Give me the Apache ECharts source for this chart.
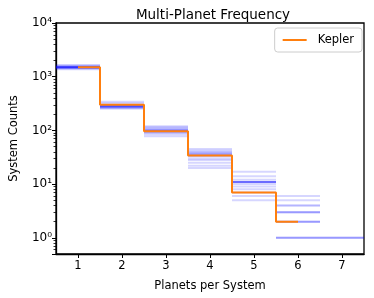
<!DOCTYPE html>
<html>
<head>
<meta charset="utf-8">
<script src="https://cdn.jsdelivr.net/npm/echarts@6/dist/echarts.min.js"></script>
<style>html,body{margin:0;padding:0;background:#fff}#c{width:374px;height:298px}</style>
</head>
<body>
<div id="c"></div>
<script>
// Planet multiplicity categories
var planets = [1, 2, 3, 4, 5, 6, 7];
// Kepler observed counts (planets 1..6)
var keplerPlanets = [1, 2, 3, 4, 5, 6];
var keplerCounts = [1500, 300, 97, 34, 7, 2];
// Simulated system counts per multiplicity (one array per multiplicity, one entry per simulation)
var sim1 = [1500, 1520, 1480, 1550, 1450, 1600, 1380, 1500, 1530, 1420, 1650, 1480, 1510, 1490];
var sim2 = [280, 270, 290, 260, 300, 275, 320, 285, 340, 255, 295, 280, 270, 285];
var sim3 = [100, 95, 110, 90, 105, 85, 120, 98, 78, 115, 92, 100, 96, 102];
var sim4 = [33, 36, 30, 40, 28, 45, 25, 35, 22, 38, 20, 42, 34, 37];
var sim5 = [11, 11, 9, 12, 11, 8, 14, 11, 17, 6, 5, 10, 11, 7];
var sim6 = [4, 3, 2, 3, 4, 2, 5, 1, 6, 2, 3, 1, 1, null];
var sim7 = [null, 1, null, null, null, null, null, null, 1, null, null, 1, null, null];
var yTickLabels = {'1': '10\u2070', '10': '10\u00b9', '100': '10\u00b2', '1000': '10\u00b3', '10000': '10\u2074'};

var simLevels = [sim1, sim2, sim3, sim4, sim5, sim6, sim7];
var nSims = sim1.length;
var series = [];
for (var s = 0; s < nSims; s++) {
  var data = [];
  for (var i = 0; i < planets.length; i++) {
    var v = simLevels[i][s];
    if (v == null || v <= 0) continue;
    data.push([planets[i] - 0.5, v]);
    data.push([planets[i] + 0.5, v]);
    data.push(null);
  }
  series.push({
    type: 'line', data: data, showSymbol: false, symbol: 'none', silent: true,
    connectNulls: false, z: 2,
    lineStyle: {color: 'rgba(0,0,255,0.16)', width: 2},
    animation: false
  });
}
series.push({
  name: 'Kepler', type: 'line', step: 'middle', showSymbol: false, symbol: 'none', z: 5,
  data: keplerPlanets.map(function (p, i) { return [p, keplerCounts[i]]; }),
  lineStyle: {color: '#ff7f0e', width: 2}, itemStyle: {color: '#ff7f0e'},
  animation: false
});

var chart = echarts.init(document.getElementById('c'), null, {renderer: 'canvas'});
var font = 'DejaVu Sans';
chart.setOption({
  animation: false,
  title: {
    text: 'Multi-Planet Frequency', left: 208, top: 3, textAlign: 'center',
    textStyle: {fontFamily: font, fontSize: 13.5, fontWeight: 'normal', color: '#000'}
  },
  legend: {
    data: ['Kepler'], right: 12, top: 28,
    orient: 'vertical', itemWidth: 24, itemHeight: 2, itemGap: 4,
    padding: [6, 8, 6, 8],
    borderColor: '#cccccc', borderWidth: 1, borderRadius: 3, backgroundColor: '#fff',
    icon: 'rect',
    textStyle: {fontFamily: font, fontSize: 11.5, color: '#000', padding: [0, 0, 0, 6]}
  },
  grid: {left: 52, right: 10, top: 23, bottom: 44, show: true, borderColor: '#000', borderWidth: 1.3, backgroundColor: 'transparent'},
  xAxis: {
    type: 'value', min: 0.5, max: 7.5, splitNumber: 7,
    name: 'Planets per System', nameLocation: 'middle', nameGap: 26,
    nameTextStyle: {fontFamily: font, fontSize: 11.5, color: '#000'},
    axisLine: {lineStyle: {color: '#000', width: 1.3}},
    axisTick: {length: 4, lineStyle: {color: '#000', width: 1}},
    axisLabel: {fontFamily: font, fontSize: 11.5, color: '#000', margin: 6,
      showMinLabel: false, showMaxLabel: false,
      formatter: function (v) { return (Math.abs(v - Math.round(v)) < 1e-6) ? String(Math.round(v)) : ''; }},
    splitLine: {show: false}
  },
  yAxis: {
    type: 'log', min: 0.5, max: 10000, logBase: 10,
    name: 'System Counts', nameLocation: 'middle', nameGap: 36,
    nameTextStyle: {fontFamily: font, fontSize: 11.5, color: '#000'},
    axisLine: {lineStyle: {color: '#000', width: 1.3}},
    axisTick: {length: 4, lineStyle: {color: '#000', width: 1}},
    minorTick: {show: true, splitNumber: 9, length: 2.5, lineStyle: {color: '#000', width: 0.8}},
    axisLabel: {fontFamily: font, fontSize: 12, color: '#000', margin: 4,
      showMinLabel: false,
      formatter: function (v) { var k = String(Math.round(v)); return (yTickLabels[k] && Math.abs(v - Math.round(v)) < 1e-6) ? yTickLabels[k] : ''; }},
    splitLine: {show: false}, minorSplitLine: {show: false}
  },
  series: series
});
</script>
</body>
</html>
